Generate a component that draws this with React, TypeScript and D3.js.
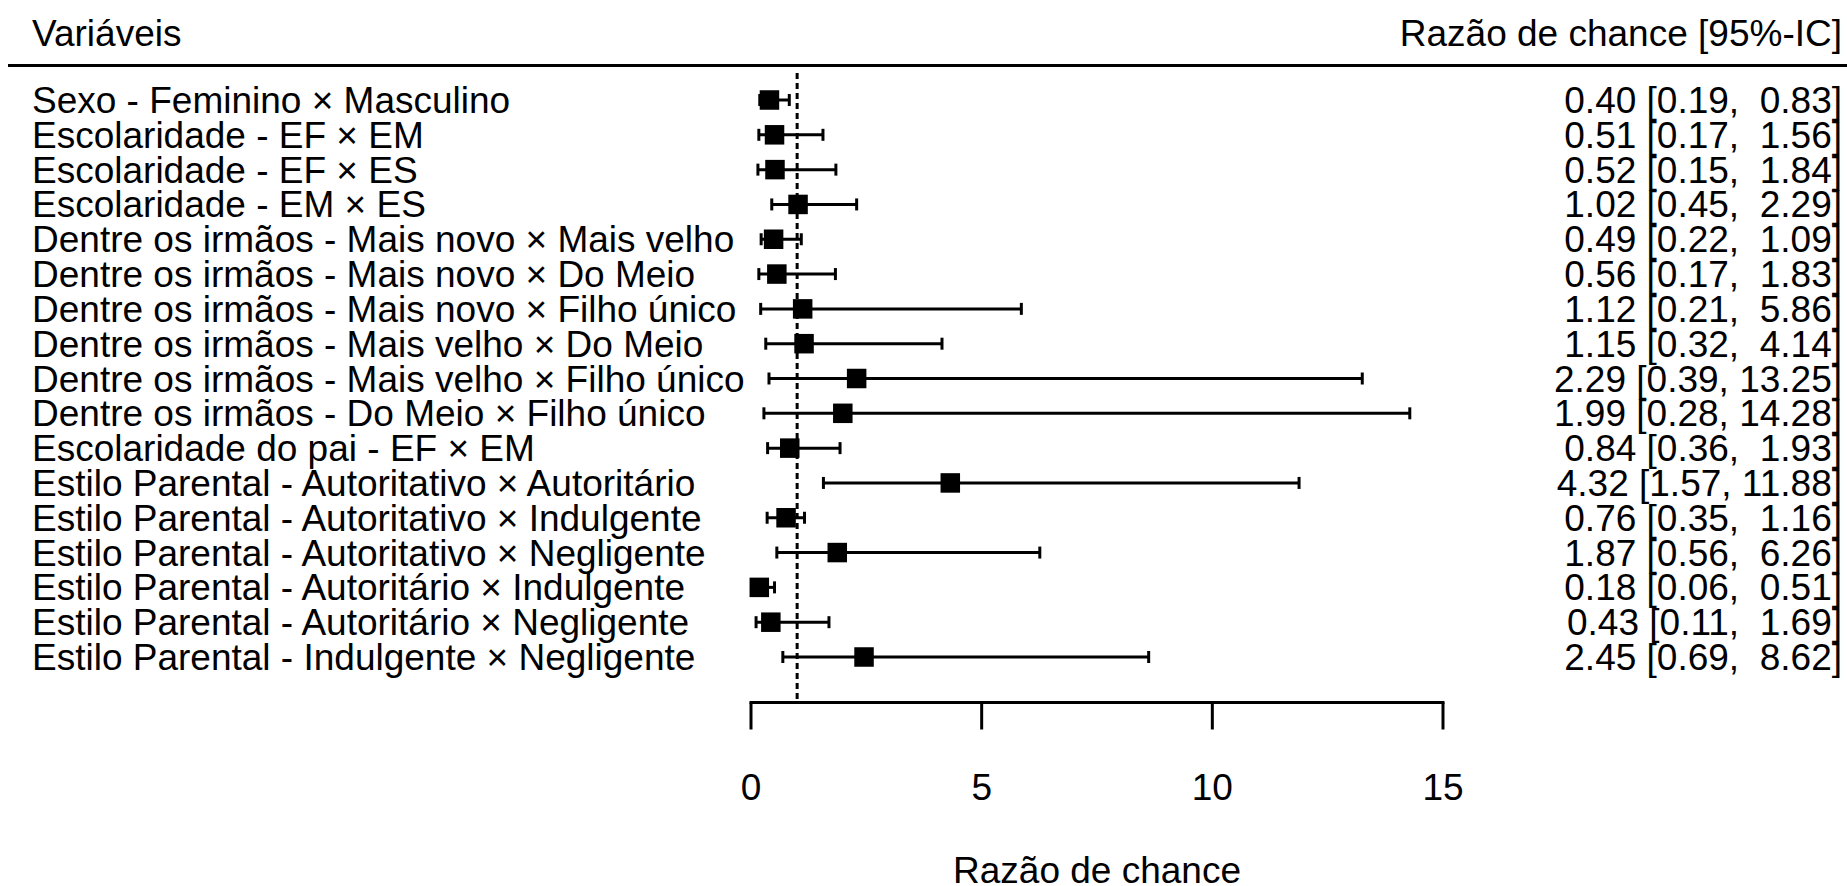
import React from "react";
import * as d3 from "d3";

const variables: string[] = [
  "Sexo - Feminino × Masculino",
  "Escolaridade - EF × EM",
  "Escolaridade - EF × ES",
  "Escolaridade - EM × ES",
  "Dentre os irmãos - Mais novo × Mais velho",
  "Dentre os irmãos - Mais novo × Do Meio",
  "Dentre os irmãos - Mais novo × Filho único",
  "Dentre os irmãos - Mais velho × Do Meio",
  "Dentre os irmãos - Mais velho × Filho único",
  "Dentre os irmãos - Do Meio × Filho único",
  "Escolaridade do pai - EF × EM",
  "Estilo Parental - Autoritativo × Autoritário",
  "Estilo Parental - Autoritativo × Indulgente",
  "Estilo Parental - Autoritativo × Negligente",
  "Estilo Parental - Autoritário × Indulgente",
  "Estilo Parental - Autoritário × Negligente",
  "Estilo Parental - Indulgente × Negligente",
];

const oddsRatio: number[] = [0.40, 0.51, 0.52, 1.02, 0.49, 0.56, 1.12, 1.15, 2.29, 1.99, 0.84, 4.32, 0.76, 1.87, 0.18, 0.43, 2.45];
const lower: number[] = [0.19, 0.17, 0.15, 0.45, 0.22, 0.17, 0.21, 0.32, 0.39, 0.28, 0.36, 1.57, 0.35, 0.56, 0.06, 0.11, 0.69];
const upper: number[] = [0.83, 1.56, 1.84, 2.29, 1.09, 1.83, 5.86, 4.14, 13.25, 14.28, 1.93, 11.88, 1.16, 6.26, 0.51, 1.69, 8.62];

const xTicks: number[] = [0, 5, 10, 15];
const headerLeft = "Variáveis";
const headerRight = "Razão de chance [95%-IC]";
const xTitle = "Razão de chance";
const refValue = 1;

const W = 1847;
const H = 886;
const FONT = "'Liberation Sans', Arial, sans-serif";
const FS = 37;

export default function App() {
  const x = d3.scaleLinear().domain([0, 15]).range([751, 1443]);
  const y = d3
    .scalePoint<number>()
    .domain(d3.range(variables.length))
    .range([100, 657]);
  const axisY = 702.5;
  const sq = 19.5;
  const capH = 12;

  const fmt = (v: number) => v.toFixed(2);
  const ciText = (i: number) =>
    `${fmt(oddsRatio[i])} [${fmt(lower[i])},${upper[i] >= 10 ? " " : "  "}${fmt(upper[i])}]`;

  return (
    <svg
      width={W}
      height={H}
      style={{ position: "absolute", left: 0, top: 0, background: "#fff" }}
      fontFamily={FONT}
      fontSize={FS}
    >
      <rect x={0} y={0} width={W} height={H} fill="#fff" />
      {/* header */}
      <text x={32} y={46} fill="#000">{headerLeft}</text>
      <text x={1842} y={46} textAnchor="end" fill="#000">{headerRight}</text>
      <line x1={8} x2={W} y1={65.5} y2={65.5} stroke="#000" strokeWidth={3} />

      {/* reference line */}
      <line
        x1={x(refValue)}
        x2={x(refValue)}
        y1={73}
        y2={axisY}
        stroke="#000"
        strokeWidth={3}
        strokeDasharray="6,4"
      />

      {/* rows */}
      {variables.map((v, i) => {
        const cy = y(i) as number;
        return (
          <g key={i}>
            <text x={32} y={cy + 13} fill="#000">{v}</text>
            <text x={1842} y={cy + 13} textAnchor="end" fill="#000" style={{ whiteSpace: "pre" }}>
              {ciText(i)}
            </text>
            <line x1={x(lower[i])} x2={x(upper[i])} y1={cy} y2={cy} stroke="#000" strokeWidth={3} />
            <line x1={x(lower[i])} x2={x(lower[i])} y1={cy - capH / 2} y2={cy + capH / 2} stroke="#000" strokeWidth={3} />
            <line x1={x(upper[i])} x2={x(upper[i])} y1={cy - capH / 2} y2={cy + capH / 2} stroke="#000" strokeWidth={3} />
            <rect x={x(oddsRatio[i]) - sq / 2} y={cy - sq / 2} width={sq} height={sq} fill="#000" />
          </g>
        );
      })}

      {/* x axis */}
      <line x1={x(0) - 1.5} x2={x(15) + 1.5} y1={axisY} y2={axisY} stroke="#000" strokeWidth={3} />
      {xTicks.map((t) => (
        <g key={t}>
          <line x1={x(t)} x2={x(t)} y1={axisY} y2={axisY + 27} stroke="#000" strokeWidth={3} />
          <text x={x(t)} y={800} textAnchor="middle" fill="#000">{t}</text>
        </g>
      ))}
      <text x={(x(0) + x(15)) / 2} y={883} textAnchor="middle" fill="#000">{xTitle}</text>
    </svg>
  );
}
